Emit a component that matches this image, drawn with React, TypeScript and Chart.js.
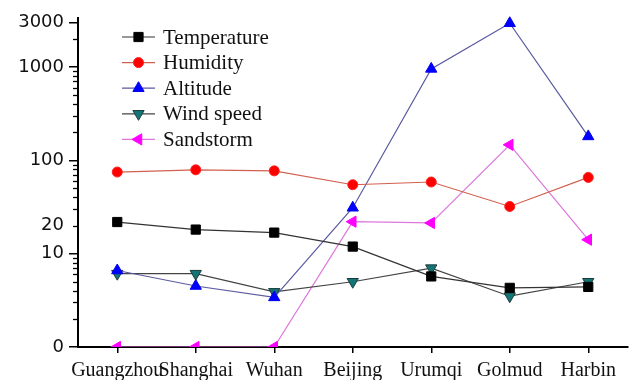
import React, { useEffect, useRef } from "react";
import { Chart, registerables } from "chart.js";

Chart.register(...registerables);

const cities = ["Guangzhou", "Shanghai", "Wuhan", "Beijing", "Urumqi", "Golmud", "Harbin"];
const temperature = [21.8, 18.1, 16.8, 11.9, 5.7, 4.3, 4.4];
const humidity = [74.8, 79, 77, 54.7, 58.5, 32, 65.5];
const altitude = [6.6, 4.5, 3.4, 31, 952, 2933, 180];
const windSpeed = [6.1, 6.1, 3.9, 5.0, 7.0, 3.5, 5.0];
const sandstorm = [0, 0, 0, 22, 21.3, 146.5, 14.1];

const yMajorTicks = [0, 10, 20, 100, 1000, 3000];
const yShortLabelledTicks = [20];
const yMinorTicks = [2, 3, 4, 5, 6, 7, 8, 9, 20, 30, 40, 50, 60, 70, 80, 90, 200, 300, 400, 500, 600, 700, 800, 900, 2000];
const yMin = 1;
const yMax = 3340;

const toPlot = (v: number) => (v <= 0 ? yMin : v);

type SeriesDef = {
  label: string;
  data: number[];
  line: string;
  fill: string;
  border: string;
  style: "rect" | "circle" | "triangle";
  rotation: number;
  radius: number;
};

const series: SeriesDef[] = [
  { label: "Temperature", data: temperature, line: "#333333", fill: "#000000", border: "#000000", style: "rect", rotation: 0, radius: 6.5 },
  { label: "Humidity", data: humidity, line: "#d2604f", fill: "#ff0000", border: "#ff2020", style: "circle", rotation: 0, radius: 5 },
  { label: "Altitude", data: altitude, line: "#5a5aa0", fill: "#0000ff", border: "#0000ee", style: "triangle", rotation: 0, radius: 6.5 },
  { label: "Wind speed", data: windSpeed, line: "#444444", fill: "#137575", border: "#1e3b3b", style: "triangle", rotation: 180, radius: 6.5 },
  { label: "Sandstorm", data: sandstorm, line: "#dd77dd", fill: "#ff00ff", border: "#ff00ff", style: "triangle", rotation: 270, radius: 6.5 },
];

function drawMarker(ctx: CanvasRenderingContext2D, s: SeriesDef, x: number, y: number) {
  ctx.save();
  ctx.fillStyle = s.fill;
  ctx.strokeStyle = s.border;
  ctx.lineWidth = 1;
  ctx.beginPath();
  const r = s.radius;
  if (s.style === "rect") {
    const h = Math.SQRT1_2 * r;
    ctx.rect(x - h, y - h, 2 * h, 2 * h);
  } else if (s.style === "circle") {
    ctx.arc(x, y, r, 0, Math.PI * 2);
  } else {
    const rot = (s.rotation * Math.PI) / 180;
    for (let i = 0; i < 3; i++) {
      const a = rot - Math.PI / 2 + (i * 2 * Math.PI) / 3;
      const px = x + Math.cos(a) * r;
      const py = y + Math.sin(a) * r;
      if (i === 0) ctx.moveTo(px, py);
      else ctx.lineTo(px, py);
    }
    ctx.closePath();
  }
  ctx.fill();
  ctx.stroke();
  ctx.restore();
}

const legendPlugin = {
  id: "insideLegend",
  afterDraw(chart: any) {
    const ctx: CanvasRenderingContext2D = chart.ctx;
    const x0 = 122;
    const x1 = 155;
    const top = 37;
    const step = 25.6;
    series.forEach((s, i) => {
      const y = top + i * step;
      ctx.save();
      ctx.strokeStyle = s.line;
      ctx.lineWidth = 1.2;
      ctx.beginPath();
      ctx.moveTo(x0, y);
      ctx.lineTo(x1, y);
      ctx.stroke();
      ctx.restore();
      drawMarker(ctx, s, (x0 + x1) / 2, y);
      ctx.save();
      ctx.fillStyle = "#111111";
      ctx.font = '21px "Liberation Serif", "Times New Roman", serif';
      ctx.textBaseline = "middle";
      ctx.textAlign = "left";
      ctx.fillText(s.label, 163, y + 1);
      ctx.restore();
    });
  },
};

const minorTickPlugin = {
  id: "minorTicks",
  afterDraw(chart: any) {
    const ctx: CanvasRenderingContext2D = chart.ctx;
    const scale = chart.scales.y;
    const left = chart.chartArea.left;
    ctx.save();
    ctx.strokeStyle = "#000000";
    ctx.lineWidth = 1.3;
    yMinorTicks.forEach((v) => {
      const y = Math.round(scale.getPixelForValue(v)) + 0.5;
      ctx.beginPath();
      ctx.moveTo(left - 5, y);
      ctx.lineTo(left, y);
      ctx.stroke();
    });
    ctx.restore();
  },
};

export default function App() {
  const canvasRef = useRef<HTMLCanvasElement | null>(null);

  useEffect(() => {
    if (!canvasRef.current) return;
    const chart = new Chart(canvasRef.current, {
      type: "line",
      data: {
        labels: cities,
        datasets: series.map((s) => ({
          label: s.label,
          data: s.data.map(toPlot),
          borderColor: s.line,
          borderWidth: 1.2,
          backgroundColor: s.fill,
          pointStyle: s.style,
          pointRotation: s.rotation,
          pointRadius: s.radius,
          pointBackgroundColor: s.fill,
          pointBorderColor: s.border,
          pointBorderWidth: 1,
          tension: 0,
          fill: false,
          clip: { left: 8, top: 12, right: 8, bottom: 0 },
        })),
      },
      options: {
        animation: false,
        responsive: true,
        maintainAspectRatio: false,
        devicePixelRatio: 1,
        layout: { padding: { top: 18, left: 0, right: 0, bottom: 0 } },
        plugins: {
          legend: { display: false },
          tooltip: { enabled: false },
        },
        scales: {
          x: {
            type: "category",
            offset: true,
            grid: {
              display: true,
              drawOnChartArea: false,
              drawTicks: true,
              tickLength: 6,
              color: "#000000",
              lineWidth: 1.5,
            },
            border: { display: true, color: "#000000", width: 2 },
            ticks: {
              color: "#111111",
              padding: 6,
              maxRotation: 0,
              autoSkip: false,
              font: { family: '"Liberation Serif", "Times New Roman", serif', size: 20 },
            },
            afterFit: (s: any) => {
              s.height = 33;
            },
          },
          y: {
            type: "logarithmic",
            min: yMin,
            max: yMax,
            grid: {
              display: true,
              drawOnChartArea: false,
              drawTicks: true,
              tickLength: 9,
              color: (c: any) =>
                yShortLabelledTicks.includes(yMajorTicks[c.index]) ? "rgba(0,0,0,0)" : "#000000",
              lineWidth: 1.5,
            },
            border: { display: true, color: "#000000", width: 2 },
            afterBuildTicks: (s: any) => {
              s.ticks = yMajorTicks.map((v) => ({ value: toPlot(v) }));
            },
            ticks: {
              color: "#111111",
              padding: 5,
              autoSkip: false,
              font: { family: '"DejaVu Sans", Arial, sans-serif', size: 18 },
              callback: (_v: any, i: number) => String(yMajorTicks[i]),
            },
            afterFit: (s: any) => {
              s.width = 78;
            },
          },
        },
      },
      plugins: [minorTickPlugin, legendPlugin],
    });
    return () => chart.destroy();
  }, []);

  return (
    <div style={{ position: "fixed", left: 0, top: 0, width: 635, height: 380, background: "#ffffff" }}>
      <canvas ref={canvasRef} />
    </div>
  );
}
